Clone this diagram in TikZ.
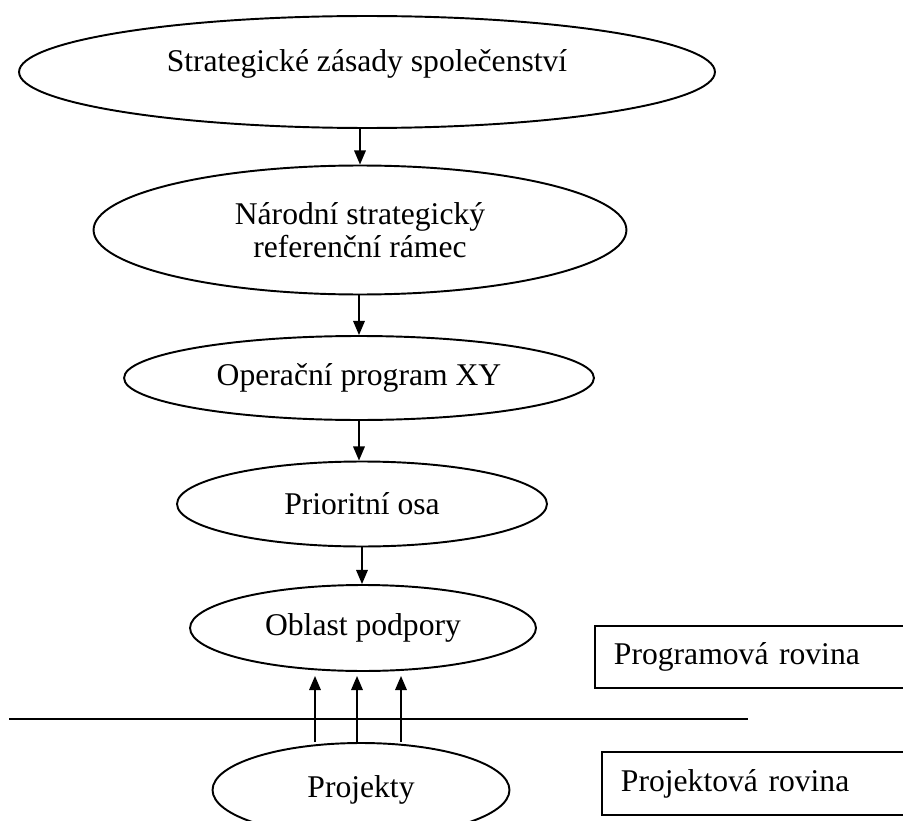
\documentclass[tikz,border=0pt]{standalone}
\usepackage{fontspec}
\setmainfont{Liberation Serif}
\usetikzlibrary{shapes.geometric,arrows.meta}
\tikzset{
  ovalbox/.style={ellipse,draw,inner sep=0pt,align=center},
  planebox/.style={rectangle,draw,anchor=west,inner xsep=0.38cm,text width=6cm,align=left}
}
\begin{document}
\begin{tikzpicture}[x=0.02cm,y=-0.02cm,line width=1.1pt,>={Triangle[length=8pt,width=6.5pt]},font=\fontsize{18}{19}\selectfont]
	  \useasboundingbox (0,0) rectangle (903,821);
	  \clip (0,0) rectangle (903,821);
	  \node[ovalbox,minimum width=13.92cm,minimum height=2.24cm,text height=13pt,text depth=13.5pt] (zasady) at (367,72) {Strategické zásady společenství};
	  \node[ovalbox,minimum width=10.66cm,minimum height=2.58cm] (narodni) at (360,230) {Národní strategický\\referenční rámec};
	  \node[ovalbox,minimum width=9.4cm,minimum height=1.68cm] (operacni) at (359,378) {Operační program XY};
	  \node[ovalbox,minimum width=7.4cm,minimum height=1.7cm] (osa) at (362,504) {Prioritní osa};
	  \node[ovalbox,minimum width=6.92cm,minimum height=1.72cm] (oblast) at (363,628) {Oblast podpory};
	  \node[ovalbox,minimum width=5.94cm,minimum height=1.88cm] (projekty) at (361,790) {Projekty};
	  \node[planebox,minimum height=1.24cm] (programova) at (594,657) {Programová rovina};
	  \node[planebox,minimum height=1.26cm] (projektova) at (601,783.5) {Projektová rovina};
	  \coordinate (sepL) at (9,719);
	  \coordinate (sepR) at (748,719);
	  \draw (sepL) -- (sepR);
	  \draw[->] (zasady.south -| narodni.north) -- (narodni.north);
	  \draw[->] (narodni.south -| operacni.north) -- (operacni.north);
	  \draw[->] (operacni.south) -- (operacni.south |- osa.north);
	  \draw[->] (osa.south) -- (osa.south |- oblast.north);
	  \foreach \dx in {-46,-4,40}
	    \draw[->] ([shift={(\dx,0)}]projekty.north) -- ([shift={(\dx-2,4)}]oblast.south);
	\end{tikzpicture}
\end{document}
